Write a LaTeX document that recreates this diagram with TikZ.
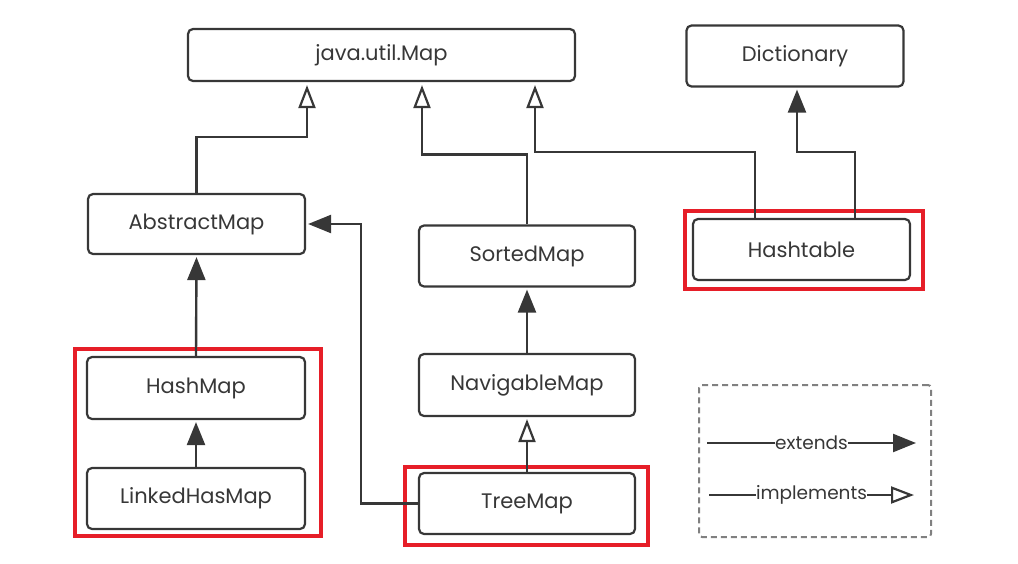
\documentclass[tikz,border=0pt]{standalone}
\usepackage{fontspec}
\setmainfont{Poppins}
\usetikzlibrary{arrows.meta}
\definecolor{ink}{RGB}{55,55,55}
\definecolor{hl}{RGB}{230,30,40}
\begin{document}
\begin{tikzpicture}[x=1pt,y=-1pt,
  cls/.style={draw=ink,line width=2.2pt,rounded corners=5pt,text=ink,
    font=\fontsize{21}{23}\selectfont,inner sep=0pt},
  ext/.style={draw=ink,line width=2.4pt,-{Triangle[length=23pt,width=18pt]}},
  impl/.style={draw=ink,line width=2.4pt,-{Triangle[open,length=23pt,width=17pt,line width=2.2pt]}},
  hlframe/.style={draw=hl,line width=4pt,inner sep=0pt},
  lbl/.style={fill=white,inner sep=0.5pt,text=ink,font=\fontsize{18.5}{20}\selectfont}]
\useasboundingbox (0,0) rectangle (1018,563);
\node[cls,minimum width=387pt,minimum height=52pt] (map) at (381.5,55) {java.util.Map};
\node[cls,minimum width=217pt,minimum height=61pt] (dict) at (795,56) {Dictionary};
\node[cls,minimum width=217pt,minimum height=60pt] (abs) at (196.5,224) {AbstractMap};
\node[cls,minimum width=216pt,minimum height=61pt] (sorted) at (527,256) {SortedMap};
\node[cls,minimum width=216pt,minimum height=62pt] (nav) at (527,385) {NavigableMap};
\node[cls,minimum width=216pt,minimum height=61pt] (tree) at (527,503.5) {TreeMap};
\node[cls,minimum width=217pt,minimum height=61pt] (hash) at (801.5,249.5) {Hashtable};
\node[cls,minimum width=218pt,minimum height=62pt] (hmap) at (196,388) {HashMap};
\node[cls,minimum width=218pt,minimum height=61pt] (lhm) at (196,498.5) {LinkedHasMap};
% highlight frames
\node[hlframe,minimum width=246pt,minimum height=187pt] (m1) at (198,442.5) {};
\node[hlframe,minimum width=238pt,minimum height=78pt] (m2) at (804,250) {};
\node[hlframe,minimum width=243pt,minimum height=78pt] (m3) at (526.5,506) {};
% connectors
\draw[impl] (abs.north) -- ++(0,-56) -| ([xshift=-74.5pt,yshift=-3pt]map.south);
\draw[impl] (sorted.north) -- ++(0,-70) -| ([xshift=40.5pt,yshift=-3pt]map.south);
\draw[impl] ([xshift=-46.5pt]hash.north) -- ++(0,-66) -| ([xshift=153.5pt,yshift=-3pt]map.south);
\draw[ext] ([xshift=53.5pt]hash.north) -- ++(0,-66) -| ([xshift=2pt,yshift=-2pt]dict.south);
\draw[ext] (hmap.north) -- ([yshift=-2pt]abs.south);
\draw[ext] (lhm.north) -- ([yshift=-2pt]hmap.south);
\draw[ext] (nav.north) -- ([yshift=-2pt]sorted.south);
\draw[impl] (tree.north) -- ([yshift=-2pt]nav.south);
\draw[ext] (tree.west) -- ++(-57,0) |- ([xshift=2pt]abs.east);
% legend
\node[draw=gray,dash pattern=on 6pt off 4pt,line width=2pt,rounded corners=3pt,
  minimum width=232pt,minimum height=152pt] (legend) at (815,461) {};
\coordinate (e1) at (707,443);
\coordinate (e2) at (916,443);
\coordinate (i1) at (709,495);
\coordinate (i2) at (914,495);
\draw[ext] (e1) -- node[lbl,pos=0.5] {extends} (e2);
\draw[impl] (i1) -- node[lbl,pos=0.5] {implements} (i2);
\end{tikzpicture}
\end{document}
